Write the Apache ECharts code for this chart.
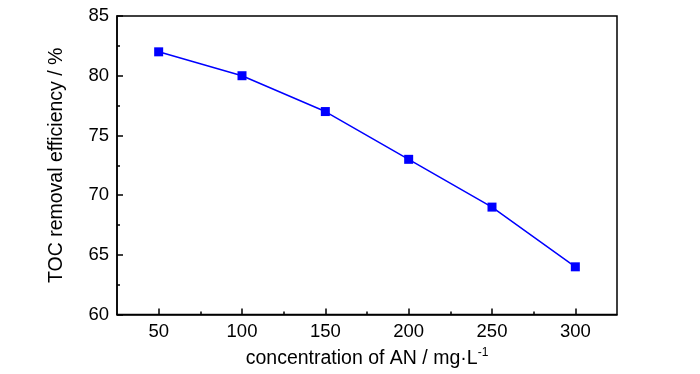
<!DOCTYPE html>
<html><head><meta charset="utf-8">
<script src="https://cdn.jsdelivr.net/npm/echarts@6/dist/echarts.min.js"></script>
<style>html,body{margin:0;padding:0;background:#fff}#c{width:700px;height:374px}</style>
</head><body><div id="c"></div>
<script>
const concentration = [50, 100, 150, 200, 250, 300];
const tocRemoval = [82, 80, 77, 73, 69, 64];
const xMajorTicks = [50, 100, 150, 200, 250, 300];
const xMinorTicks = [75, 125, 175, 225, 275];
const font = 'Liberation Sans, Arial, sans-serif';

const chart = echarts.init(document.getElementById('c'));
chart.setOption({
  animation: false,
  grid: { left: 117, top: 16, right: 83, bottom: 58, show: true, borderColor: '#000', borderWidth: 1.5, backgroundColor: 'transparent' },
  xAxis: [{
    type: 'value', min: 25, max: 325,
    name: '{a|concentration of AN / mg·L}{s|-1}',
    nameLocation: 'middle', nameGap: 29,
    nameTextStyle: { rich: {
      a: { fontFamily: font, fontSize: 19.5, color: '#000' },
      s: { fontFamily: font, fontSize: 12, color: '#000', verticalAlign: 'top', padding: [0,0,13,0] }
    } },
    axisLine: { show: true, lineStyle: { color: '#000', width: 1.5 } },
    axisTick: { show: true, inside: true, length: 6, customValues: xMajorTicks, lineStyle: { color: '#000', width: 1.5 } },
    axisLabel: { customValues: xMajorTicks, fontFamily: font, fontSize: 18.5, color: '#000', margin: 8 },
    splitLine: { show: false }
  }, {
    type: 'value', min: 25, max: 325, position: 'bottom', gridIndex: 0,
    axisLine: { show: false },
    axisTick: { show: true, inside: true, length: 3, customValues: xMinorTicks, lineStyle: { color: '#000', width: 1.5 } },
    axisLabel: { show: false },
    splitLine: { show: false }
  }],
  yAxis: {
    type: 'value', min: 60, max: 85, interval: 5,
    name: 'TOC removal efficiency / %', nameLocation: 'middle', nameGap: 50,
    nameTextStyle: { fontFamily: font, fontSize: 19.5, color: '#000' },
    axisLine: { show: true, lineStyle: { color: '#000', width: 1.5 } },
    axisTick: { show: true, inside: true, length: 6, lineStyle: { color: '#000', width: 1.5 } },
    minorTick: { show: true, splitNumber: 2, length: 3, lineStyle: { color: '#000', width: 1.5 } },
    axisLabel: { fontFamily: font, fontSize: 18.5, color: '#000', margin: 8 },
    splitLine: { show: false }
  },
  series: [{
    type: 'line',
    data: concentration.map((x, i) => [x, tocRemoval[i]]),
    symbol: 'rect', symbolSize: 9,
    itemStyle: { color: '#0000ff' },
    lineStyle: { color: '#0000ff', width: 1.5 }
  }]
});
</script></body></html>
